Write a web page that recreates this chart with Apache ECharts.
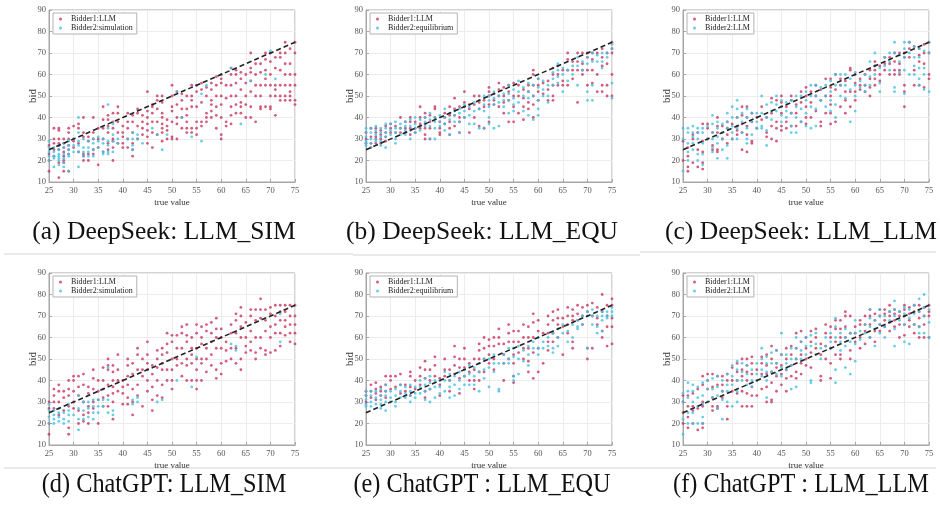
<!DOCTYPE html>
<html>
<head>
<meta charset="utf-8">
<script src="https://cdn.jsdelivr.net/npm/echarts@6/dist/echarts.min.js"></script>
<style>
  html, body { margin: 0; padding: 0; background: #fff; }
  #bidScatter { width: 940px; height: 506px; }
</style>
</head>
<body>
<div id="bidScatter"></div>
<script>
// each row: [true value, [bids at that value]]
const deepseekSimBidder1 = [
  [25,[15,20,23,27]],[26,[35,30,28,25,22]],[27,[35,34,30,28,27,25,19,12]],[28,[30,28,26,24,22,20,19,15]],
  [29,[35,33,30,27,25,23,15]],[30,[36,30,29,26]],[31,[37,35,28,24]],[32,[40,33,31,23,22,20]],
  [33,[31,29,23,20]],[34,[40,33,30,25,23]],[35,[35,30,26,18]],[36,[45,39,35,30,24]],
  [37,[41,39,36,33,28,25]],[38,[42,38,35,30,29,26,20]],[39,[45,42,38,33,28]],[40,[36,33,31,28,26]],
  [41,[42,38,35,30,26]],[42,[41,38,33,28,25,22]],[43,[44,42,36,30]],[44,[41,38,35,32]],
  [45,[52,43,40,37,34,31,28]],[46,[46,45,42,38,33,26]],[47,[50,48,44,38,32]],[48,[50,47,42,40,37,35,33,29]],
  [49,[39,36,34,30]],[50,[55,50,45,43,38,31,30]],[51,[52,46,40,37,30]],[52,[51,48,44,40,35]],
  [53,[50,44,41,38,35,33]],[54,[55,50,48,45,35,33]],[55,[55,52,45,38,35,32]],[56,[56,53,47,38,36]],
  [57,[54,50,42,40,38]],[58,[56,53,48,46,43,40]],[59,[59,55,50,45,41,35]],[60,[60,58,56,50,46,40,32,30]],
  [61,[55,49,38,36]],[62,[63,60,55,50,45,41,37]],[63,[62,60,56,50,46,42]],[64,[61,58,53,47,45,42]],
  [65,[60,56,50,46,40]],[66,[70,63,61,57,52,45,40]],[67,[65,60,55,50,38]],[68,[65,61,55,50,45,44]],
  [69,[70,67,62,58,55,45]],[70,[70,66,60,55,50,45,44]],[71,[68,63,55,53,50,41]],[72,[70,68,62,55,50,48]],
  [73,[75,70,65,60,55,50,48]],[74,[72,65,60,55,52,50,48]],[75,[75,70,60,55,48,46]]
];
const deepseekSimBidder2 = [
  [25,[29,26,24,22,20]],[26,[26,24,22,21,17]],[27,[27,25,23,22,21,20,18]],[28,[28,26,23,21,19,17]],
  [29,[29,27,25,23,22,15]],[30,[30,27,24]],[31,[40,33,29,27,24,17]],[32,[30,26,24,22]],
  [33,[29,26,24,22]],[34,[30,28,25,22]],[35,[31,29,26]],[36,[30,28,24,23]],
  [37,[46,35,29,27,24,23]],[38,[37,32,29,24]],[39,[30,28]],[41,[30]],[42,[33,30,27,25]],
  [43,[32,30]],[44,[28]],[46,[35]],[47,[32]],[48,[25]],[49,[32]],[51,[52]],[52,[40]],[54,[31]],
  [56,[51,29]],[57,[55]],[60,[60]],[62,[63]],[64,[37]],[66,[57]],[69,[60]],[70,[71]],[71,[58]]
];
const deepseekEquBidder1 = [
  [25,[33,30,28]],[26,[35,31,28,26]],[27,[35,33,31,30,28]],[28,[34,32,30,28]],[29,[36,33,31,29]],
  [30,[37,35,33]],[31,[36,33]],[32,[40,35,33]],[33,[38,35,33]],[34,[40,38,35,32]],[35,[38,35,33]],
  [36,[45,40,37,35]],[37,[42,40,37,35,32,30]],[38,[41,38,35,30]],[39,[45,44,40]],[40,[38,35,33,32]],
  [41,[42,40,37]],[42,[45,41,38,35,32]],[43,[49,44,41,36]],[44,[45,40,38,33]],[45,[52,47,45,40]],
  [46,[46,44,33]],[47,[50,46,40]],[48,[50,47,44,36]],[49,[48,45,35]],[50,[54,52,50,46,38]],
  [51,[51,48,46]],[52,[56,53,50,45]],[53,[54,50,47,42]],[54,[55,52,48,38]],[55,[56,50,45,38]],
  [56,[55,50,42]],[57,[53,49,45,39]],[58,[55,52,47,44]],[59,[62,60,55,50,46,40]],[60,[58,55,52,48]],
  [61,[56,51]],[62,[57,53,48]],[63,[63,60,55,50,48]],[64,[64,60,55]],[65,[62,57,55]],
  [66,[70,67,62,55]],[67,[66,62,58]],[68,[70,66,62,47]],[69,[70,65,62,60]],[70,[70,68,62,55]],
  [71,[70,67,62,56]],[72,[70,60,52]],[73,[72,68,64,55,52]],[74,[70,65,55,50]],[75,[75,72,70,60,50]]
];
const deepseekEquBidder2 = [
  [25,[35,33,31,29,28,27]],[26,[35,33,30,28,26]],[27,[36,34,32,30,29]],[28,[35,33,31,29,27]],
  [29,[37,35,33,31,26]],[30,[37,34,32]],[31,[38,35,33,30,28]],[32,[37,35,32]],[33,[38,36,34,32]],
  [34,[39,36,34,30]],[35,[40,37,35,33]],[36,[39,36,34]],[37,[40,38,36]],[38,[42,39,36,30]],
  [39,[40,38,35,30]],[40,[41,38,36]],[41,[44,40,37,34]],[42,[42,39,32]],[43,[43,41,38]],
  [44,[44,42,38,33]],[45,[46,43,40]],[46,[45,41,37]],[47,[47,43,37]],[48,[48,44,35]],
  [49,[50,46,43,35]],[50,[50,48,45,40,37]],[51,[52,49,46,35]],[52,[50,47,36]],[53,[51,48,45]],
  [54,[55,51,48,42]],[55,[53,49,46,43]],[56,[57,52,47]],[57,[54,50,43]],[58,[56,52,49,41]],
  [59,[55,50,39]],[60,[58,54,48,44,41]],[61,[57,53,50]],[62,[55,50,47]],[63,[61,58,55]],
  [64,[65,62,59,56]],[65,[63,60,52]],[66,[62,57]],[67,[64,60]],[68,[68,64,55]],[69,[66,62]],
  [70,[68,65,52,48]],[71,[70,66,55,48]],[72,[69,66]],[73,[70,66,63]],[74,[70,68]],[75,[74,72,56,49]]
];
const deepseekLlmBidder1 = [
  [25,[29,20]],[26,[26,22,17,15]],[27,[32,30,19]],[28,[33,25,17]],[29,[37,29,24,19,16]],
  [30,[37,35,30]],[31,[33,27,25]],[32,[40,36,33,25,24]],[33,[36,30]],[34,[38,35,32,28]],
  [35,[37,30]],[36,[40,36,34,32]],[37,[45,41,37,33,25]],[38,[45,40,36,32,24]],[39,[42,38,29,28]],
  [40,[40,35]],[41,[45,39]],[42,[40,33,31]],[43,[49,42,36,30]],[44,[48,38,35,29]],
  [45,[50,47,42,36,34]],[46,[45,38,35]],[47,[50,48,42,36]],[48,[46,42,36]],[49,[52,47,38]],
  [50,[54,50,45,40,37]],[51,[52,47,40]],[52,[55,50,43]],[53,[53,48,38,36]],[54,[58,50,42]],
  [55,[58,54,50,46,42,37]],[56,[60,53,38]],[57,[58,55,45]],[58,[57,52,48,42]],[59,[63,62,52,45]],
  [60,[60,56,52,48]],[61,[58,55,53]],[62,[60,55,52]],[63,[62,58,54,50]],[64,[66,64,62,58,55]],
  [65,[64,60,57]],[66,[68,65,62]],[67,[68,65,60]],[68,[70,66,62,60]],[69,[70,65,62,60]],
  [70,[70,68,55,52,45]],[71,[75,72,68]],[72,[73,62,55]],[73,[72,69,66,55]],[74,[74,70,65,54]],
  [75,[75,70,60,58]]
];
const deepseekLlmBidder2 = [
  [25,[35,30,15]],[26,[35,33,28,24,20]],[27,[36,33,31,28,25]],[28,[35,33,30,23,20]],
  [29,[35,33,28,23,18]],[30,[36,30]],[31,[41,37,33,30,26,24]],[32,[38,35,31,28,21]],
  [33,[37,33,30,25]],[34,[42,38,35,27,21]],[35,[45,40,36,33,30]],[36,[48,44,40,35,30]],
  [37,[42,38,33]],[38,[44,40,35,30,28]],[39,[42,38,32]],[40,[42,38,35]],[41,[50,42,36,35]],
  [42,[46,40,34,27]],[43,[47,43,39]],[44,[50,46,43]],[45,[48,45,41,38]],[46,[47,43,40]],
  [47,[48,42,36,33]],[48,[50,45,40,33]],[49,[50,44,38]],[50,[52,48,42,36]],[51,[55,50,45,35]],
  [52,[55,50,44,36]],[53,[54,48]],[54,[55,50,45]],[55,[57,52,48,43]],[56,[60,55,46,40]],
  [57,[60,55,50]],[58,[60,55,49]],[59,[58,53,38]],[60,[61,55,50,43]],[61,[57,54]],[62,[60,55,52]],
  [63,[66,59,55]],[64,[70,64,60]],[65,[63,56,52]],[66,[68,64]],[67,[70,66,62]],[68,[75,70,54,52]],
  [69,[69,66,61]],[70,[75,72,68,62,51]],[71,[75,70,60]],[72,[73,68,64,60]],[73,[72,68,63,58,55]],
  [74,[71,63,60,53]],[75,[75,70,52]]
];
const chatgptSimBidder1 = [
  [25,[30,27,20,15]],[26,[36,33,30,27]],[27,[38,35,30,24]],[28,[35,32,26]],[29,[40,36,33,28,18,15]],
  [30,[42,40,35,30,27]],[31,[42,37,33,26,20]],[32,[43,38,30,24,21]],[33,[37,34,28,25,20]],
  [34,[45,41,36,30,27]],[35,[40,35,31,20]],[36,[46,40,36,32,28]],[37,[50,47,45,38,33,28]],
  [38,[47,44,40,37,34,30,22]],[39,[52,45,40,35]],[40,[40,37,34,29]],[41,[50,47,42,38,32,29]],
  [42,[48,43,36,30,24]],[43,[55,52,45,38,33]],[44,[50,45,42,28]],[45,[58,52,48,45,40,35]],
  [46,[47,43,37,31,26]],[47,[54,50,46,40,33]],[48,[55,52,48,45,38,32]],[49,[62,57,53,45,40]],
  [50,[61,58,50,45,40,36]],[51,[61,55,50,47]],[52,[65,62,55,48,42]],[53,[66,61,58,50,47,40]],
  [54,[60,55,52,48,40]],[55,[66,62,55,50,45,40,36]],[56,[65,60,57,50,48,40]],[57,[66,63,55,50,44]],
  [58,[67,62,58,52,47]],[59,[69,64,60,55,45,41]],[60,[64,60,55,48,43]],[61,[58,54,49]],
  [62,[66,62,55,50]],[63,[71,68,62,55,48]],[64,[74,70,65,60,50,45]],[65,[67,60,56,53]],
  [66,[73,70,63,58,54]],[67,[73,68,60,53,50]],[68,[78,73,69,60,55]],[69,[73,68,63,54,52]],
  [70,[74,71,65,60,53]],[71,[75,70,66,62,54]],[72,[75,72,68,62,56]],[73,[75,72,68,65,61]],
  [74,[75,70,66,62,58]],[75,[75,70,66,62,57]]
];
const chatgptSimBidder2 = [
  [25,[29,26,23,20]],[26,[26,24,22,20]],[27,[27,25,23,21]],[28,[25,22,20]],[29,[29,26,24,21]],
  [30,[24]],[31,[33,27,22,17]],[32,[30,26,22]],[33,[30,27,23]],[34,[31,28,25,22]],[35,[31,28,25]],
  [36,[31,28]],[37,[46,31,25]],[38,[26,24]],[42,[31,29]],[43,[32,30]],[47,[30]],[48,[31]],
  [51,[40]],[54,[37]],[55,[51]],[62,[57]],[63,[56,54]],[72,[58,71]]
];
const chatgptEquBidder1 = [
  [25,[35,33,30]],[26,[38,35,32]],[27,[39,36,34,31]],[28,[37,35,33]],[29,[42,38,35,32]],
  [30,[42,40,36]],[31,[42,37]],[32,[43,38,34]],[33,[38,35]],[34,[44,42,37,33]],[35,[40,36]],
  [36,[46,42,38]],[37,[49,45,41,35,32]],[38,[45,40,36]],[39,[51,47,42]],[40,[41,38,33]],
  [41,[50,45,42]],[42,[45,40,35]],[43,[56,51,47,43]],[44,[50,46,41,34]],[45,[55,50,46,42]],
  [46,[48,44,40]],[47,[50,45,40,36]],[48,[57,54,50,44,40]],[49,[60,55,50,44]],[50,[59,56,52,48]],
  [51,[60,56,50,45]],[52,[64,60,57]],[53,[57,52,48,40]],[54,[66,62,58,50]],[55,[63,58,52,48,42,39]],
  [56,[63,58,53]],[57,[66,60,55,50]],[58,[65,60,55,49,44]],[59,[71,67,60,53,41]],[60,[68,63,55,44]],
  [61,[62,48]],[62,[70,66,62,58,54]],[63,[72,68,62,58]],[64,[73,69,66,60]],[65,[69,65,52]],
  [66,[74,70,66,62]],[67,[73,70,68,58,55]],[68,[75,71,68]],[69,[74,70,66]],[70,[75,72,55,50]],
  [71,[76,70,55]],[72,[74,69,66]],[73,[80,72,63,60]],[74,[75,70,65,56]],[75,[78,75,69,65,57]]
];
const chatgptEquBidder2 = [
  [25,[35,33,31,29,28]],[26,[35,33,30,28]],[27,[35,32,29]],[28,[36,33,31,29,27]],[29,[38,35,33,30,26]],
  [30,[35,32,30]],[31,[36,33,30,28]],[32,[38,35,32]],[33,[37,34,32]],[34,[38,35,33,30]],
  [35,[37,34,32]],[36,[40,37,34]],[37,[41,38,35,31]],[38,[42,39,36,30]],[39,[40,37,32]],
  [40,[40,37,34]],[41,[44,40,35]],[42,[43,40,37,32]],[43,[42,38,33]],[44,[44,40,36]],
  [45,[45,42,38]],[46,[47,43,38]],[47,[46,42,38]],[48,[48,44,35]],[49,[50,45,41]],[50,[50,46,37]],
  [51,[52,48,44]],[52,[48,36,35]],[53,[52,48]],[54,[55,50,48]],[55,[55,51,42,40]],[56,[56,50,43]],
  [57,[54,49]],[58,[56,52,47]],[59,[58,55]],[60,[60,55,52]],[61,[58,55]],[62,[60,56]],
  [63,[62,55,53]],[64,[64,60,56]],[65,[66,62]],[66,[63,58]],[67,[66,60]],[68,[68,65,64]],
  [69,[70,66]],[70,[72,70,55]],[71,[73,70,66]],[72,[70,65,62]],[73,[72,70,68,63]],[74,[72,70,69]],
  [75,[74,72,70]]
];
const chatgptLlmBidder1 = [
  [25,[33,30,25,20]],[26,[33,28,23,18]],[27,[34,28,26,20]],[28,[36,27,17]],[29,[42,38,30,28,20,18]],
  [30,[43,40,36]],[31,[43,37,32,28,26]],[32,[42,38,28,27]],[33,[42,38,35,32]],[34,[43,40,28,22]],
  [35,[46,40,35]],[36,[48,44,40,34]],[37,[50,45,42,35,28]],[38,[50,47,44,40,34,28]],
  [39,[51,48,43,37,33,28]],[40,[45,40,33]],[41,[51,48,43,36]],[42,[52,47,43,37,30]],
  [43,[56,50,44,39,31,30]],[44,[54,48,46,42,35]],[45,[52,47,43,38]],[46,[55,50,45,41,35]],
  [47,[56,52,47,42]],[48,[62,55,50,44,41]],[49,[63,58,52,48,43]],[50,[60,55,50,47]],
  [51,[63,58,53,46]],[52,[64,60,55]],[53,[57,52,42,40]],[54,[66,62,56,50]],[55,[65,60,55,48,41]],
  [56,[68,64,58,52]],[57,[68,64,60,52,50]],[58,[72,70,65,60]],[59,[70,62,54,50]],[60,[65,62,58]],
  [61,[68,66,60,55]],[62,[70,66,63,57]],[63,[73,70,66,60]],[64,[71,68,63,58]],[65,[73,70,66,63]],
  [66,[73,71,68,65]],[67,[75,72,70,67,63]],[68,[73,71,68,65]],[69,[72,70,66,60]],[70,[75,73,70,66,61]],
  [71,[74,71,68,65]],[72,[75,72,66,62]],[73,[75,72,69,65,60]],[74,[74,70,66,60]],[75,[75,72,70,60]]
];
const chatgptLlmBidder2 = [
  [25,[34,30,22,15]],[26,[39,35,32,25,20]],[27,[38,35,30,25,20]],[28,[37,32,28,20]],
  [29,[39,33,29,23,20]],[30,[40,36,30]],[31,[41,36,32]],[32,[42,37,33,27]],[33,[40,35,31,22]],
  [34,[43,38,35,30]],[35,[47,42,38,28]],[36,[49,45,40,35,30]],[37,[48,44,40]],[38,[47,43,38]],
  [39,[45,40,37]],[40,[48,43,40]],[41,[55,50,45,42]],[42,[51,48,44,40,32]],[43,[53,48,44]],
  [44,[54,48,43]],[45,[62,52,46,42]],[46,[52,48,45]],[47,[55,50,47,36]],[48,[60,55,50,37]],
  [49,[58,54,50]],[50,[60,56,52]],[51,[61,56,40,39]],[52,[62,57,52]],[53,[55,50]],[54,[60,56]],
  [55,[62,58,55]],[56,[69,65,60,45,39]],[57,[62,58,54]],[58,[64,60,56,46]],[59,[62,58,43]],
  [60,[68,62,57,49]],[61,[63,59]],[62,[66,62]],[63,[73,69,65,60]],[64,[68,64,56]],
  [65,[73,70,66,62]],[66,[70,65,60]],[67,[72,68]],[68,[77,73,70,64,56]],[69,[72,68]],
  [70,[74,71,66,58]],[71,[73,69,57]],[72,[75,71,66]],[73,[78,72,65,62]],[74,[80,74,70,62]],
  [75,[73,67,60]]
];

const bidder1Names = ['Bidder1:LLM', 'Bidder1:LLM', 'Bidder1:LLM', 'Bidder1:LLM', 'Bidder1:LLM', 'Bidder1:LLM'];
const bidder2Names = ['Bidder2:simulation', 'Bidder2:equilibrium', 'Bidder2:LLM', 'Bidder2:simulation', 'Bidder2:equilibrium', 'Bidder2:LLM'];
const captions = ['(a) DeepSeek: LLM_SIM', '(b) DeepSeek: LLM_EQU', '(c) DeepSeek: LLM_LLM',
  '(d) ChatGPT: LLM_SIM', '(e) ChatGPT : LLM_EQU', '(f) ChatGPT : LLM_LLM'];
const trueValueRange = [25, 75];
const bidRange = [10, 90];

const bidder1Data = [deepseekSimBidder1, deepseekEquBidder1, deepseekLlmBidder1, chatgptSimBidder1, chatgptEquBidder1, chatgptLlmBidder1];
const bidder2Data = [deepseekSimBidder2, deepseekEquBidder2, deepseekLlmBidder2, chatgptSimBidder2, chatgptEquBidder2, chatgptLlmBidder2];

const expand = groups => groups.flatMap(([x, ys]) => ys.map(y => [x, y]));

const RED = '#c8345f';
const CYAN = '#44c0e4';
const SERIF = '"Liberation Serif", "Times New Roman", serif';
const gridLefts = [49, 366, 683];
const gridTops = [10, 273];
const captionX = [164, 482, 801];
const captionY = [232, 485];

let grids = [], xAxes = [], yAxes = [], series = [], legends = [], graphics = [];

for (let i = 0; i < 6; i++) {
  const col = i % 3, row = Math.floor(i / 3);
  grids.push({
    left: gridLefts[col], top: gridTops[row], width: 246, height: 172,
    show: true, borderColor: '#a6a6a6', borderWidth: 1, backgroundColor: '#fff'
  });
  xAxes.push({
    gridIndex: i, type: 'value', min: trueValueRange[0], max: trueValueRange[1], interval: 5,
    name: 'true value', nameLocation: 'middle', nameGap: 16, nameMoveOverlap: false,
    nameTextStyle: {fontFamily: SERIF, fontSize: 9, color: '#333'},
    axisLine: {show: true, onZero: false, lineStyle: {color: '#a6a6a6'}},
    axisTick: {show: true, inside: true, length: 3, lineStyle: {color: '#a6a6a6'}},
    axisLabel: {fontFamily: SERIF, fontSize: 8.5, color: '#555', margin: 4},
    splitLine: {show: true, lineStyle: {color: '#ececec'}}
  });
  yAxes.push({
    gridIndex: i, type: 'value', min: bidRange[0], max: bidRange[1], interval: 10,
    name: 'bid', nameLocation: 'middle', nameGap: 10, nameMoveOverlap: false,
    nameTextStyle: {fontFamily: SERIF, fontSize: 11, color: '#333'},
    axisLine: {show: true, onZero: false, lineStyle: {color: '#a6a6a6'}},
    axisTick: {show: true, inside: true, length: 3, lineStyle: {color: '#a6a6a6'}},
    axisLabel: {fontFamily: SERIF, fontSize: 8.5, color: '#555', margin: 3},
    splitLine: {show: true, lineStyle: {color: '#ececec'}}
  });
  series.push({
    name: bidder1Names[i], type: 'scatter', xAxisIndex: i, yAxisIndex: i,
    data: expand(bidder1Data[i]), symbol: 'circle', symbolSize: 2.8,
    itemStyle: {color: RED}, z: 2
  });
  series.push({
    name: bidder2Names[i], type: 'scatter', xAxisIndex: i, yAxisIndex: i,
    data: expand(bidder2Data[i]), symbol: 'circle', symbolSize: 2.8,
    itemStyle: {color: CYAN}, z: 2
  });
  series.push({
    name: 'y=x', type: 'line', xAxisIndex: i, yAxisIndex: i,
    data: [[trueValueRange[0], trueValueRange[0]], [trueValueRange[1], trueValueRange[1]]],
    symbol: 'none', silent: true, z: 4,
    lineStyle: {color: '#222', width: 1.6, type: [5, 3]}
  });
  legends.push({
    left: gridLefts[col] + 4, top: gridTops[row] + 3, orient: 'vertical',
    data: [bidder1Names[i], bidder2Names[i]],
    icon: 'circle', itemWidth: 3, itemHeight: 3, itemGap: 1,
    backgroundColor: '#fff', borderColor: '#b3b3b3', borderWidth: 1, borderRadius: 0,
    padding: [2, 4, 2, 6], selectedMode: false,
    textStyle: {fontFamily: SERIF, fontSize: 8, color: '#222', padding: [0, 0, 0, 4]}
  });
  graphics.push({
    type: 'text', x: captionX[col], y: captionY[row], scaleX: row === 1 ? 0.9 : 1,
    style: {
      text: captions[i], x: 0, y: 0, align: 'center', verticalAlign: 'middle',
      fontFamily: SERIF, fontSize: row === 1 ? 27 : 25.5, fill: '#111'
    }
  });
}

// faint frame lines of the original figure
graphics.push({type: 'line', shape: {x1: 4, y1: 254, x2: 353, y2: 254}, style: {stroke: '#d4d4d4', lineWidth: 1}});
graphics.push({type: 'line', shape: {x1: 353, y1: 255, x2: 640, y2: 255}, style: {stroke: '#d4d4d4', lineWidth: 1}});
graphics.push({type: 'line', shape: {x1: 640, y1: 252, x2: 936, y2: 252}, style: {stroke: '#d4d4d4', lineWidth: 1}});
graphics.push({type: 'line', shape: {x1: 4, y1: 468, x2: 936, y2: 468}, style: {stroke: '#d4d4d4', lineWidth: 1}});

const bidChart = echarts.init(document.getElementById('bidScatter'), null, {width: 940, height: 506, renderer: 'canvas'});
bidChart.setOption({
  animation: false,
  backgroundColor: '#fff',
  grid: grids,
  xAxis: xAxes,
  yAxis: yAxes,
  legend: legends,
  series: series,
  graphic: graphics
});
</script>
</body>
</html>
